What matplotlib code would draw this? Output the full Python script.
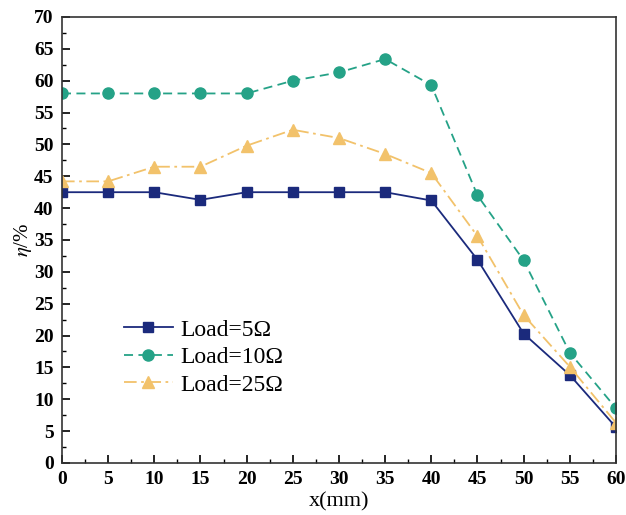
import matplotlib
matplotlib.use("Agg")
import matplotlib.pyplot as plt
from matplotlib.ticker import MultipleLocator

x = [0, 5, 10, 15, 20, 25, 30, 35, 40, 45, 50, 55, 60]
load5 = [42.5, 42.5, 42.5, 41.3, 42.5, 42.5, 42.5, 42.5, 41.2, 31.9, 20.3, 13.8, 5.6]
load10 = [58.0, 58.0, 58.0, 58.0, 58.0, 60.0, 61.3, 63.4, 59.3, 42.0, 31.8, 17.3, 8.6]
load25 = [44.2, 44.2, 46.5, 46.5, 49.8, 52.3, 51.0, 48.5, 45.5, 35.6, 23.2, 15.1, 6.3]
labels = ["Load=5Ω", "Load=10Ω", "Load=25Ω"]

plt.rcParams['font.family'] = ['Liberation Serif', 'DejaVu Serif']
plt.rcParams['mathtext.fontset'] = 'stix'

fig = plt.figure(figsize=(6.26, 5.15), dpi=100)
ax = fig.add_axes([0.099, 0.101, 0.885, 0.866])

ax.plot(x, load5, color='#1b2a7c', linestyle='-', linewidth=1.3, marker='s', markersize=7, label=labels[0])
ax.plot(x, load10, color='#25a287', linestyle=(0, (5, 3)), linewidth=1.3, marker='o', markersize=8, label=labels[1])
ax.plot(x, load25, color='#f2c26b', linestyle=(0, (7, 2.5, 1.5, 2.5)), linewidth=1.3, marker='^', markersize=9, label=labels[2])

ax.set_xlim(0, 60)
ax.set_ylim(0, 70)
ax.xaxis.set_major_locator(MultipleLocator(5))
ax.xaxis.set_minor_locator(MultipleLocator(2.5))
ax.yaxis.set_major_locator(MultipleLocator(5))
ax.yaxis.set_minor_locator(MultipleLocator(2.5))
ax.tick_params(which='both', direction='in', top=False, right=False)
ax.tick_params(which='major', length=6, width=1.2, labelsize=14, pad=6)
ax.tick_params(which='minor', length=3, width=1.0)
for lab in ax.get_xticklabels() + ax.get_yticklabels():
    lab.set_fontweight('bold')
for sp in ax.spines.values():
    sp.set_linewidth(1.2)
    sp.set_color('#333333')

ax.set_xlabel('x(mm)', fontsize=16, labelpad=3)
ax.set_ylabel(r'$\eta$/%', fontsize=15, labelpad=0)

leg = ax.legend(loc='upper left', bbox_to_anchor=(0.073, 0.37), frameon=False,
                fontsize=17, handlelength=2.1, handletextpad=0.3, labelspacing=0.25)

fig.savefig('out.png', dpi=100)
